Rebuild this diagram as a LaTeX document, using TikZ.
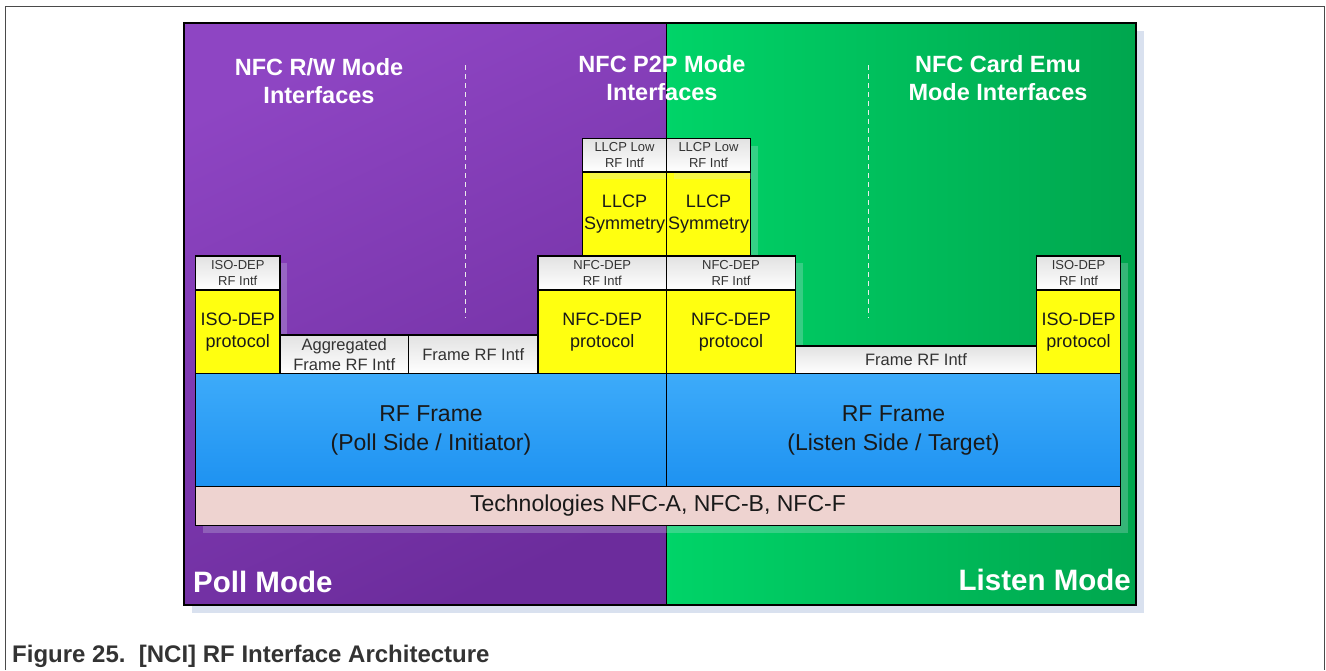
\documentclass[tikz,border=0pt]{standalone}
\usepackage{fontspec}
\setmainfont{Liberation Sans}
\usetikzlibrary{shadows}
\definecolor{framegray}{HTML}{4A4A4A}
\definecolor{shadowc}{HTML}{D9E1EF}
\definecolor{pollTop}{HTML}{8E45C3}
\definecolor{pollBot}{HTML}{6C2C9C}
\definecolor{listenLeft}{HTML}{00D468}
\definecolor{listenRight}{HTML}{00A64E}
\definecolor{rfTop}{HTML}{3DABFA}
\definecolor{rfBot}{HTML}{1E92F1}
\definecolor{protoYellow}{HTML}{FFFF10}
\definecolor{intfTop}{HTML}{E2E2E2}
\definecolor{techPink}{HTML}{EED3D0}
\definecolor{captgray}{HTML}{333333}
\begin{document}
\begin{tikzpicture}[x=1pt,y=-1pt]
  \tikzstyle{box}=[draw=black,line width=1.4pt,inner sep=0pt,align=center,text=black!90,
                   drop shadow={shadow xshift=7pt,shadow yshift=-7pt,fill=shadowc,opacity=0.25}]
  \tikzstyle{intf}=[box,top color=intfTop,bottom color=white,text=captgray,font=\fontsize{13}{16}\selectfont]
  \tikzstyle{proto}=[box,fill=protoYellow,font=\fontsize{18}{22}\selectfont]
  \tikzstyle{frameintf}=[box,top color=intfTop,bottom color=white,text=captgray,font=\fontsize{16.5}{20}\selectfont]
  \tikzstyle{rfframe}=[box,top color=rfTop,bottom color=rfBot,font=\fontsize{23}{29}\selectfont]
  \tikzstyle{title}=[align=center,text=white,font=\bfseries\fontsize{23.5}{28}\selectfont]
  \tikzstyle{mode}=[inner sep=0pt,text=white,font=\bfseries\fontsize{29.5}{32}\selectfont]
  \useasboundingbox (0,0) rectangle (1326,670);
  % outer frame and background
  \draw[framegray,line width=1.3pt] (5.5,670) -- (5.5,6.5) -- (1324.5,6.5) -- (1324.5,670);
  \fill[shadowc] (192,31) rectangle (1144,613);
  \draw[line width=1.5pt,top color=pollTop,bottom color=pollBot,shading angle=25] (184,23) rectangle (666.5,605);
  \draw[line width=1.5pt,left color=listenLeft,right color=listenRight] (666.5,23) rectangle (1136,605);
  \draw[white!85!gray,line width=1pt,dash pattern=on 5pt off 4pt] (465,65) -- (465,318);
  \draw[white!85!gray,line width=1pt,dash pattern=on 5pt off 4pt] (868,65) -- (868,318);
  % titles
  \node[title] (rwtitle) at (319,81) {NFC R/W Mode\\Interfaces};
  \node[title] (p2ptitle) at (662,78) {NFC P2P Mode\\Interfaces};
  \node[title] (cetitle) at (998,78) {NFC Card Emu\\Mode Interfaces};
  % poll side stack
  \node[intf,minimum width=84.5,minimum height=34] (isorfL) at (237.75,273) {ISO-DEP\\RF Intf};
  \node[proto,minimum width=84.5,minimum height=83.5] (isoprotoL) at (237.75,331.75) {ISO-DEP\\protocol};
  \node[frameintf,minimum width=128.5,minimum height=38.5] (aggr) at (344.25,354.25) {Aggregated\\Frame RF Intf};
  \node[frameintf,minimum width=129.5,minimum height=38.5] (frameL) at (473.25,354.25) {Frame RF Intf};
  \node[proto,minimum width=84,minimum height=84] (llcpsymL) at (624.5,214) {LLCP\\Symmetry};
  \node[intf,minimum width=84,minimum height=33.5] (llcplowL) at (624.5,155.25) {LLCP Low\\RF Intf};
  \node[intf,minimum width=128.5,minimum height=34] (nfcrfL) at (602.25,273) {NFC-DEP\\RF Intf};
  \node[proto,minimum width=128.5,minimum height=83.5] (nfcprotoL) at (602.25,331.75) {NFC-DEP\\protocol};
  % listen side stack
  \node[proto,minimum width=84,minimum height=84] (llcpsymR) at (708.5,214) {LLCP\\Symmetry};
  \node[intf,minimum width=84,minimum height=33.5] (llcplowR) at (708.5,155.25) {LLCP Low\\RF Intf};
  \node[intf,minimum width=129,minimum height=34] (nfcrfR) at (731,273) {NFC-DEP\\RF Intf};
  \node[proto,minimum width=129,minimum height=83.5] (nfcprotoR) at (731,331.75) {NFC-DEP\\protocol};
  \node[frameintf,minimum width=241,minimum height=27.5] (frameR) at (916,359.75) {Frame RF Intf};
  \node[intf,minimum width=84,minimum height=34] (isorfR) at (1078.5,273) {ISO-DEP\\RF Intf};
  \node[proto,minimum width=84,minimum height=83.5] (isoprotoR) at (1078.5,331.75) {ISO-DEP\\protocol};
  % rf frames and technologies
  \node[rfframe,minimum width=471,minimum height=113] (rfpoll) at (431,430) {RF Frame\\(Poll Side / Initiator)};
  \node[rfframe,minimum width=454,minimum height=113] (rflisten) at (893.5,430) {RF Frame\\(Listen Side / Target)};
  \node[box,fill=techPink,minimum width=925,minimum height=39,font=\fontsize{23}{28}\selectfont] (tech) at (658,506) {Technologies NFC-A, NFC-B, NFC-F};
  % mode labels and caption
  \node[mode,anchor=west] (pollmode) at (193,582) {Poll Mode};
  \node[mode,anchor=east] (listenmode) at (1131,580) {Listen Mode};
  \node[anchor=west,inner sep=0pt,text=captgray,font=\bfseries\fontsize{24}{28}\selectfont] (caption) at (12,656) {Figure 25.\ \ [NCI] RF Interface Architecture};
\end{tikzpicture}
\end{document}
